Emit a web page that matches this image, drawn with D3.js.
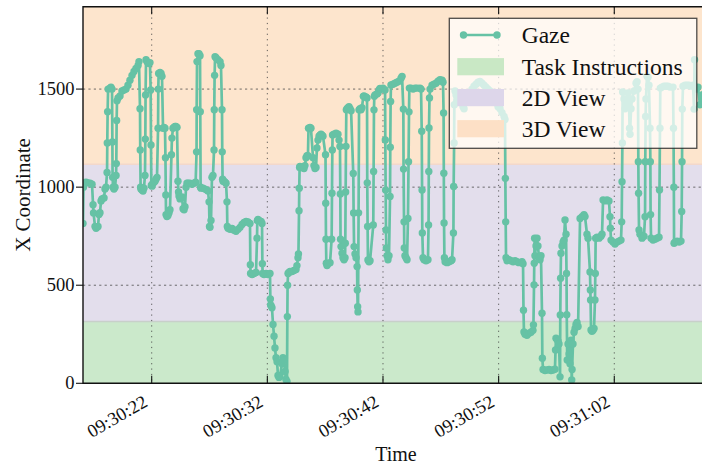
<!DOCTYPE html>
<html>
<head>
<meta charset="utf-8">
<script src="https://cdn.jsdelivr.net/npm/d3@7"></script>
<style>
  html, body { margin: 0; padding: 0; background: #fff; }
  svg { display: block; }
  text { font-family: "Liberation Serif", "Times New Roman", serif; fill: #111; }
</style>
</head>
<body>
<svg id="chart" width="702" height="469"></svg>
<script>
// Gaze samples: [seconds after 09:30:00, horizontal screen coordinate in px]
const gazeSamples = [
  [16.06,815],[16.10,1000],[16.14,1020],[16.32,1025],[16.49,1022],[16.67,1020],[16.84,1015],[16.93,910],[16.97,868],
  [17.10,800],[17.19,790],[17.27,795],[17.36,800],[17.44,860],[17.53,870],[17.62,930],[17.70,940],[17.88,945],[17.96,990],
  [18.05,1000],[18.14,1075],[18.16,1225],[18.19,1385],[18.23,1500],[18.40,1505],[18.48,1510],[18.57,1500],[18.60,1230],
  [18.62,1050],[18.66,1000],[18.74,990],[18.83,1000],[18.92,1060],[18.94,1120],[18.97,1340],[19.00,1440],[19.09,1455],
  [19.26,1465],[19.43,1490],[19.61,1495],[19.78,1500],[19.95,1520],[20.12,1545],[20.30,1570],[20.47,1590],[20.64,1605],
  [20.82,1620],[20.90,1640],[20.99,1400],[21.01,1190],[21.04,1000],[21.07,990],[21.16,985],[21.25,980],[21.33,995],
  [21.42,1060],[21.45,1245],[21.47,1470],[21.51,1650],[21.59,1640],[21.68,1635],[21.77,1630],[21.85,1635],[21.91,1495],
  [21.94,1215],[21.97,1010],[22.03,1005],[22.11,1020],[22.20,1025],[22.29,1030],[22.37,1040],[22.46,1050],[22.55,1300],
  [22.57,1500],[22.60,1580],[22.72,1585],[22.81,1580],[22.89,1565],[22.98,1300],[23.07,1305],[23.15,1300],[23.19,1150],
  [23.22,960],[23.24,860],[23.32,850],[23.41,855],[23.50,870],[23.58,885],[23.71,1165],[23.75,1250],[23.84,1300],
  [23.93,1305],[24.01,1310],[24.10,1310],[24.19,1305],[24.27,1030],[24.32,975],[24.36,955],[24.45,940],[24.54,945],
  [24.62,950],[24.71,890],[24.80,885],[24.88,900],[24.97,1000],[25.05,1020],[25.14,1020],[25.31,1020],[25.49,1015],
  [25.66,1020],[25.80,1025],[25.88,1180],[25.89,1395],[25.92,1640],[26.00,1680],[26.09,1680],[26.18,1670],[26.20,1385],
  [26.23,1000],[26.26,995],[26.44,995],[26.61,990],[26.78,985],[26.87,980],[26.96,925],[27.00,800],[27.04,795],
  [27.13,830],[27.21,1050],[27.30,1060],[27.39,1190],[27.41,1395],[27.44,1570],[27.48,1665],[27.56,1660],[27.73,1650],
  [27.91,1640],[27.99,1620],[28.08,1395],[28.10,1180],[28.13,1040],[28.17,1030],[28.25,1030],[28.34,1025],[28.43,1020],
  [28.51,925],[28.54,800],[28.60,790],[28.77,785],[28.95,790],[29.12,780],[29.29,775],[29.47,785],[29.64,795],
  [29.81,810],[29.99,820],[30.16,825],[30.33,822],[30.50,815],[30.53,605],[30.55,560],[30.68,555],[30.85,560],
  [31.02,565],[31.11,740],[31.13,830],[31.19,835],[31.28,830],[31.46,825],[31.54,815],[31.57,610],[31.59,560],
  [31.71,555],[31.89,560],[32.06,555],[32.23,560],[32.26,430],[32.28,400],[32.32,395],[32.40,385],[32.49,300],
  [32.58,240],[32.66,180],[32.75,130],[32.84,110],[32.92,40],[33.01,30],[33.09,35],[33.27,100],[33.35,130],
  [33.44,120],[33.53,60],[33.61,20],[33.70,10],[33.73,340],[33.75,500],[33.79,560],[33.87,565],[33.96,570],
  [34.13,570],[34.30,575],[34.48,580],[34.56,600],[34.65,640],[34.69,660],[34.74,880],[34.76,995],[34.79,1100],
  [34.82,1105],[34.99,1100],[35.17,1095],[35.25,1110],[35.34,1150],[35.43,1160],[35.51,1160],[35.56,1300],[35.69,1305],
  [35.77,1300],[35.95,1150],[36.03,1110],[36.12,1095],[36.21,1100],[36.29,1200],[36.38,1240],[36.47,1260],[36.55,1265],
  [36.64,1270],[36.73,1265],[36.81,1260],[37.03,1165],[37.05,918],[37.07,735],[37.10,612],[37.16,600],[37.25,610],
  [37.42,615],[37.56,735],[37.59,969],[37.62,1190],[37.64,1266],[37.76,1270],[37.94,1275],[38.11,1270],[38.20,1240],
  [38.28,1207],[38.31,965],[38.33,735],[38.37,697],[38.46,663],[38.54,640],[38.63,630],[38.72,640],[38.74,714],
  [38.77,975],[38.80,1208],[38.83,1394],[38.89,1400],[38.98,1405],[39.06,1410],[39.15,1400],[39.24,1390],[39.43,1070],
  [39.46,868],[39.50,697],[39.58,660],[39.67,640],[39.76,595],[39.78,476],[39.81,390],[39.84,364],[39.89,869],
  [39.93,1394],[40.01,1400],[40.10,1395],[40.18,1405],[40.30,1463],[40.36,1465],[40.53,1460],[40.62,1455],[40.64,1022],
  [40.67,800],[40.70,629],[40.79,620],[40.88,625],[41.16,807],[41.19,1080],[41.22,1394],[41.25,1463],[41.31,1470],
  [41.48,1475],[41.57,1480],[41.66,1495],[41.74,1503],[41.83,1500],[42.00,1505],[42.18,1495],[42.20,1241],[42.23,985],
  [42.26,782],[42.29,690],[42.35,650],[42.43,630],[42.52,650],[42.61,952],[42.63,1204],[42.66,1437],[42.69,1521],
  [42.87,1525],[43.04,1530],[43.21,1535],[43.38,1540],[43.56,1555],[43.65,1565],[43.76,1398],[43.78,1092],[43.82,823],
  [43.84,690],[43.90,650],[43.99,640],[44.08,630],[44.16,840],[44.21,1130],[44.25,1384],[44.28,1505],[44.42,1505],
  [44.60,1500],[44.77,1505],[44.94,1505],[45.20,1505],[45.29,1500],[45.35,1285],[45.38,985],[45.40,766],[45.46,640],
  [45.55,630],[45.72,625],[45.89,630],[45.94,807],[45.96,1080],[45.98,1302],[46.02,1455],[46.07,1500],[46.24,1520],
  [46.41,1525],[46.59,1530],[46.76,1540],[46.93,1548],[47.11,1545],[47.19,1535],[47.24,1378],[47.26,1071],[47.28,817],
  [47.31,640],[47.37,620],[47.54,615],[47.71,620],[47.89,625],[47.97,630],[48.09,766],[48.11,1003],[48.15,1225],
  [48.17,1420],[48.23,1490],[48.32,1470],[48.41,1440],[48.49,1450],[48.66,1470],[48.84,1445],[48.92,1410],[49.01,1400],
  [49.18,1440],[49.35,1470],[49.52,1480],[49.70,1500],[49.87,1515],[50.05,1525],[50.22,1535],[50.39,1539],[50.56,1530],
  [50.74,1520],[50.91,1510],[51.08,1500],[51.25,1490],[51.43,1470],[51.60,1450],[51.77,1430],[51.95,1410],[52.12,1400],
  [52.29,1380],[52.47,1360],[52.55,1345],[52.58,1045],[52.61,823],[52.64,640],[52.73,625],[52.90,630],[53.07,625],
  [53.25,620],[53.42,625],[53.59,620],[53.76,615],[54.02,620],[54.11,610],[54.15,373],[54.19,262],[54.28,250],
  [54.45,245],[54.63,255],[54.80,260],[54.97,270],[55.01,298],[55.06,502],[55.08,612],[55.11,740],[55.14,650],
  [55.23,700],[55.32,740],[55.40,700],[55.49,640],[55.58,630],[55.66,650],[55.75,357],[55.78,128],[55.84,70],
  [56.01,65],[56.18,68],[56.36,70],[56.53,65],[56.70,68],[56.87,72],[56.92,170],[56.96,230],[57.05,225],
  [57.14,215],[57.22,200],[57.31,33],[57.33,348],[57.36,536],[57.39,663],[57.48,700],[57.57,720],[57.65,730],
  [57.74,833],[57.83,760],[57.87,560],[57.89,350],[57.93,119],[58.00,200],[58.09,150],[58.17,100],[58.26,220],
  [58.32,17],[58.35,70],[58.43,200],[58.52,260],[58.61,280],[58.69,300],[58.78,310],[58.87,290],[59.04,840],
  [59.21,850],[59.38,860],[59.47,850],[59.64,760],[59.73,740],[59.90,568],[59.93,476],[59.95,425],[59.99,272],
  [60.07,265],[60.16,270],[60.25,280],[60.33,425],[60.36,560],[60.39,740],[60.51,745],[60.68,740],[60.85,750],
  [60.94,760],[61.03,935],[61.20,930],[61.37,935],[61.54,930],[61.63,849],[61.66,791],[61.72,730],[61.89,720],
  [62.06,710],[62.24,720],[62.41,725],[62.58,730],[62.64,823],[62.67,1028],[62.70,1225],[62.72,1485],[62.84,1450],
  [62.93,1400],[63.01,1430],[63.19,1480],[63.27,1440],[63.32,1300],[63.36,1270],[63.45,1400],[63.53,1450],[63.71,1490],
  [63.88,1530],[63.97,1537],[64.05,1500],[64.08,1130],[64.10,969],[64.14,782],[64.22,760],[64.40,740],[64.57,750],
  [64.66,849],[64.68,1130],[64.71,1360],[64.74,1450],[64.83,1565],[64.92,1560],[65.00,1520],[65.09,1300],[65.12,1130],
  [65.14,860],[65.18,740],[65.35,730],[65.52,735],[65.69,740],[65.87,745],[65.91,985],[65.95,1300],[65.98,1505],
  [66.12,1510],[66.30,1515],[66.47,1515],[66.64,1515],[66.82,1510],[67.08,1510],[67.12,1300],[67.15,1000],[67.17,714],
  [67.25,720],[67.43,725],[67.60,720],[67.77,725],[67.83,876],[67.86,1130],[67.88,1398],[67.94,1515],[68.12,1520],
  [68.29,1520],[68.46,1520],[68.64,1515],[68.81,1520],[68.90,1398],[68.94,1650],[69.07,1500],[69.24,1510],[69.41,1420],
  [69.58,1470],[69.84,1480],[70.19,1490]
];

// Screen regions shown as horizontal bands
const bandNames  = ["Task Instructions", "2D View", "3D View"];
const bandLow    = [0, 315, 1117];
const bandHigh   = [315, 1117, 1920];
const bandFill   = ["#cbe9cb", "#e3deec", "#fde5cd"];
const legendFill = ["#c9e8c5", "#ddd6ea", "#fde0c6"];

// Axis extents and ticks
const timeRange    = [16.06, 70.19];   // seconds after 09:30:00
const coordRange   = [0, 1920];
const yTicks       = [0, 500, 1000, 1500];
const xTickSeconds = [22, 32, 42, 52, 62];

const gazeColor = "#66c2a5";

const svg = d3.select("#chart");
const plotL = 83, plotR = 709, plotT = 6.7, plotB = 383.3;

const base = new Date(2024, 0, 1, 9, 30, 0);
const at = s => new Date(base.getTime() + s * 1000);

const x = d3.scaleTime().domain(timeRange.map(at)).range([plotL, plotR]);
const y = d3.scaleLinear().domain(coordRange).range([plotB, plotT]);
const fmt = d3.timeFormat("%H:%M:%S");

svg.append("defs").append("clipPath").attr("id", "plotClip")
  .append("rect").attr("x", plotL).attr("y", plotT)
  .attr("width", plotR - plotL).attr("height", plotB - plotT);

const plot = svg.append("g").attr("clip-path", "url(#plotClip)");

// Background bands
plot.selectAll("rect.band").data(bandNames).join("rect")
  .attr("class", "band")
  .attr("x", plotL).attr("width", plotR - plotL)
  .attr("y", (d, i) => y(bandHigh[i]))
  .attr("height", (d, i) => y(bandLow[i]) - y(bandHigh[i]))
  .attr("fill", (d, i) => bandFill[i]);

// Thin seams where neighbouring bands meet
const seamColors = ["#c8d0ca", "#f3d8cb"];
plot.selectAll("line.seam").data(bandLow.slice(1)).join("line")
  .attr("class", "seam")
  .attr("x1", plotL).attr("x2", plotR)
  .attr("y1", d => y(d)).attr("y2", d => y(d))
  .attr("stroke", (d, i) => seamColors[i]).attr("stroke-width", 1.6);

// Grid
plot.selectAll("line.hgrid").data(yTicks.slice(1)).join("line")
  .attr("class", "hgrid")
  .attr("x1", plotL).attr("x2", plotR)
  .attr("y1", d => y(d)).attr("y2", d => y(d))
  .attr("stroke", "#444").attr("stroke-opacity", 0.85)
  .attr("stroke-width", 0.9).attr("stroke-dasharray", "2.2,3.2");

plot.selectAll("line.vgrid").data(xTickSeconds).join("line")
  .attr("class", "vgrid")
  .attr("x1", d => x(at(d))).attr("x2", d => x(at(d)))
  .attr("y1", plotT).attr("y2", plotB)
  .attr("stroke", "#444").attr("stroke-opacity", 0.85)
  .attr("stroke-width", 1).attr("stroke-dasharray", "1.2,4.2");

// Gaze trace
const line = d3.line().x(d => x(at(d[0]))).y(d => y(d[1]));
plot.append("path").datum(gazeSamples)
  .attr("d", line).attr("fill", "none")
  .attr("stroke", gazeColor).attr("stroke-width", 2.7)
  .attr("stroke-linejoin", "round");

plot.selectAll("circle.gaze").data(gazeSamples).join("circle")
  .attr("class", "gaze")
  .attr("cx", d => x(at(d[0]))).attr("cy", d => y(d[1]))
  .attr("r", 3.7).attr("fill", gazeColor);

// Legend
const lg = svg.append("g");
const lgX = 449.3, lgY = 18.3, lgW = 247.5, lgH = 130;
lg.append("rect").attr("x", lgX).attr("y", lgY).attr("width", lgW).attr("height", lgH)
  .attr("fill", "#fff").attr("fill-opacity", 0.72)
  .attr("stroke", "#222").attr("stroke-opacity", 0.8).attr("stroke-width", 1.3);

const rowY = [35, 66.7, 97.6, 128.7];
const textX = 521.7;
lg.append("line").attr("x1", 463.5).attr("x2", 497).attr("y1", rowY[0]).attr("y2", rowY[0])
  .attr("stroke", gazeColor).attr("stroke-width", 2.7);
lg.selectAll("circle").data([463.5, 497]).join("circle")
  .attr("cx", d => d).attr("cy", rowY[0]).attr("r", 3.7).attr("fill", gazeColor);
lg.append("text").attr("x", textX).attr("y", rowY[0] + 8).attr("font-size", 23.5).text("Gaze");

lg.selectAll("rect.patch").data(bandNames).join("rect")
  .attr("class", "patch")
  .attr("x", 457.3).attr("width", 46.7)
  .attr("y", (d, i) => rowY[i + 1] - 8.6).attr("height", 17.2)
  .attr("fill", (d, i) => legendFill[i]);
lg.selectAll("text.entry").data(bandNames).join("text")
  .attr("class", "entry")
  .attr("x", textX).attr("y", (d, i) => rowY[i + 1] + 8)
  .attr("font-size", 23.5).text(d => d);

// Frame
const frame = svg.append("g").attr("stroke", "#111").attr("stroke-width", 1.4);
frame.append("line").attr("x1", plotL).attr("x2", plotL).attr("y1", plotT - 0.7).attr("y2", plotB + 0.7);
frame.append("line").attr("x1", plotL).attr("x2", plotR).attr("y1", plotT).attr("y2", plotT);
frame.append("line").attr("x1", plotL).attr("x2", plotR).attr("y1", plotB).attr("y2", plotB);

// Y axis ticks and labels
svg.selectAll("line.ytick").data(yTicks).join("line")
  .attr("class", "ytick")
  .attr("x1", plotL - 7).attr("x2", plotL)
  .attr("y1", d => y(d)).attr("y2", d => y(d))
  .attr("stroke", "#111").attr("stroke-width", 1.1);
svg.selectAll("text.ylab").data(yTicks).join("text")
  .attr("class", "ylab")
  .attr("x", plotL - 8.5).attr("y", d => y(d) + 6)
  .attr("text-anchor", "end").attr("font-size", 18.5)
  .text(d => d);

// X axis ticks (inward, top and bottom) and rotated labels
svg.selectAll("line.xtick").data(xTickSeconds).join("line")
  .attr("class", "xtick")
  .attr("x1", d => x(at(d))).attr("x2", d => x(at(d)))
  .attr("y1", plotB).attr("y2", plotB - 7.5)
  .attr("stroke", "#111").attr("stroke-width", 1.1);
svg.selectAll("line.xtickTop").data(xTickSeconds).join("line")
  .attr("class", "xtickTop")
  .attr("x1", d => x(at(d))).attr("x2", d => x(at(d)))
  .attr("y1", plotT).attr("y2", plotT + 7.5)
  .attr("stroke", "#111").attr("stroke-width", 1.1);
svg.selectAll("text.xlab").data(xTickSeconds).join("text")
  .attr("class", "xlab")
  .attr("text-anchor", "end").attr("font-size", 18.5)
  .attr("transform", d => `translate(${x(at(d)) - 3},${plotB + 22}) rotate(-30)`)
  .text(d => fmt(at(d)));

// Axis titles
svg.append("text").attr("x", (plotL + plotR) / 2).attr("y", 461)
  .attr("text-anchor", "middle").attr("font-size", 20).text("Time");
svg.append("text")
  .attr("transform", `translate(30,${(plotT + plotB) / 2}) rotate(-90)`)
  .attr("text-anchor", "middle").attr("font-size", 21).text("X Coordinate");
</script>
</body>
</html>
